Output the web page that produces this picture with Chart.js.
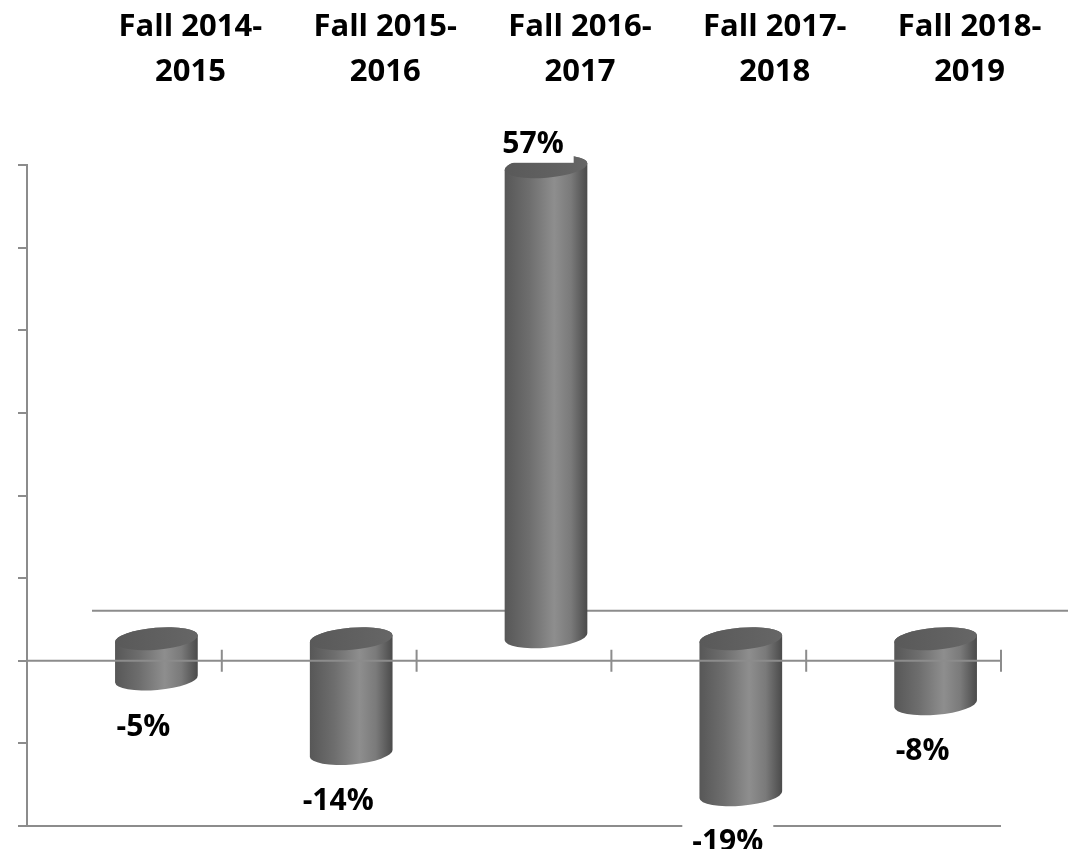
<!DOCTYPE html>
<html>
<head>
<meta charset="utf-8">
<script src="https://cdn.jsdelivr.net/npm/chart.js@4"></script>
<style>
  html, body { margin: 0; padding: 0; background: #fff; }
  #wrap { width: 1078px; height: 849px; }
</style>
</head>
<body>
<div id="wrap"><canvas id="chart1"></canvas></div>
<script>
const categories = [
  ["Fall 2014-", "2015"],
  ["Fall 2015-", "2016"],
  ["Fall 2016-", "2017"],
  ["Fall 2017-", "2018"],
  ["Fall 2018-", "2019"],
];
const changes = [-5, -14, 57, -19, -8];
const axisMin = -20;
const axisMax = 60;
const axisStep = 10;

const LINE = "#8c8c8c";
const FONT = "'Open Sans', 'DejaVu Sans', sans-serif";

// fake 3D: cylinders and back floor line are pushed back into the depth
const cylinders = {
  id: "cylinders",
  beforeDatasetsDraw(chart) {
    const { ctx, chartArea, scales } = chart;
    const y0 = scales.y.getPixelForValue(0);
    ctx.save();
    ctx.strokeStyle = LINE;
    ctx.lineWidth = 2;
    ctx.beginPath();
    ctx.moveTo(chartArea.left + 65, y0 - 50);
    ctx.lineTo(chartArea.right + 67, y0 - 50);
    ctx.stroke();
    ctx.restore();
  },
  afterDatasetsDraw(chart) {
    const { ctx, chartArea, scales } = chart;
    const meta = chart.getDatasetMeta(0);
    const y0 = scales.y.getPixelForValue(0);
    const yBottom = scales.y.getPixelForValue(axisMin);
    const rot = -0.085;
    const ry = 11;
    const boxes = [];

    ctx.save();
    meta.data.forEach((el, i) => {
      const cx = el.x + 32;
      const rx = el.width / 2;
      const yTop = Math.min(el.y, el.base) - 23;
      const yBot = Math.max(el.y, el.base) - 23;

      const g = ctx.createLinearGradient(cx - rx, 0, cx + rx, 0);
      g.addColorStop(0, "#575757");
      g.addColorStop(0.3, "#6e6e6e");
      g.addColorStop(0.6, "#8e8e8e");
      g.addColorStop(0.8, "#7a7a7a");
      g.addColorStop(1, "#4a4a4a");
      ctx.fillStyle = g;
      ctx.beginPath();
      ctx.ellipse(cx, yBot, rx, ry, rot, 0, Math.PI, false);
      ctx.ellipse(cx, yTop, rx, ry, rot, Math.PI, 2 * Math.PI, false);
      ctx.closePath();
      ctx.fill();

      const cap = ctx.createLinearGradient(cx - rx, 0, cx + rx, 0);
      cap.addColorStop(0, "#595959");
      cap.addColorStop(1, "#666666");
      ctx.fillStyle = cap;
      ctx.beginPath();
      ctx.ellipse(cx, yTop, rx, ry, rot, 0, 2 * Math.PI);
      ctx.fill();

      const v = changes[i];
      boxes.push({
        text: v + "%",
        x: cx - 13,
        y: v < 0 ? yBot + 46 : yTop - 24,
      });
    });

    // zero line with category ticks, drawn over the bars
    const n = categories.length;
    const step = (chartArea.right - chartArea.left) / n;
    ctx.strokeStyle = LINE;
    ctx.lineWidth = 2;
    ctx.beginPath();
    ctx.moveTo(chartArea.left, y0);
    ctx.lineTo(chartArea.right, y0);
    for (let i = 0; i <= n; i++) {
      const x = chartArea.left + i * step;
      ctx.moveTo(x, y0 - 11);
      ctx.lineTo(x, y0 + 11);
    }
    ctx.moveTo(chartArea.left, yBottom);
    ctx.lineTo(chartArea.right, yBottom);
    ctx.stroke();

    // data labels on white boxes
    ctx.font = "bold 30px " + FONT;
    ctx.textAlign = "center";
    ctx.textBaseline = "alphabetic";
    boxes.forEach((b) => {
      const w = ctx.measureText(b.text).width + 20;
      ctx.fillStyle = "#fff";
      ctx.fillRect(b.x - w / 2, b.y - 20, w, 40);
      ctx.fillStyle = "#000";
      ctx.fillText(b.text, b.x, b.y + 10.5);
    });
    ctx.restore();
  },
};

const ctx = document.getElementById("chart1").getContext("2d");

const myChart = new Chart(ctx, {
  type: "bar",
  data: {
    labels: categories,
    datasets: [
      {
        label: "Change",
        data: changes,
        backgroundColor: "rgba(0,0,0,0)",
        borderWidth: 0,
        barPercentage: 0.426,
        categoryPercentage: 1,
      },
    ],
  },
  options: {
    responsive: true,
    maintainAspectRatio: false,
    animation: false,
    layout: {
      padding: { top: 0, left: 0, right: 77, bottom: 23 },
    },
    scales: {
      x: {
        position: "top",
        grid: { display: false },
        border: { display: false },
        ticks: {
          color: "#000",
          font: { family: FONT, size: 31, weight: "bold", lineHeight: 1.45 },
          labelOffset: 66,
          padding: 62,
          maxRotation: 0,
          autoSkip: false,
        },
        afterFit(scale) {
          scale.height = 165;
          scale.paddingLeft = 0;
          scale.paddingRight = 0;
        },
      },
      y: {
        min: axisMin,
        max: axisMax,
        grid: {
          drawOnChartArea: false,
          drawTicks: true,
          tickLength: 9,
          color: LINE,
          lineWidth: 2,
        },
        border: { display: true, color: LINE, width: 2 },
        ticks: { display: false, stepSize: axisStep },
        afterFit(scale) {
          scale.width = 27;
        },
      },
    },
    plugins: {
      legend: { display: false },
      tooltip: { enabled: false },
    },
  },
  plugins: [cylinders],
});
</script>
</body>
</html>
